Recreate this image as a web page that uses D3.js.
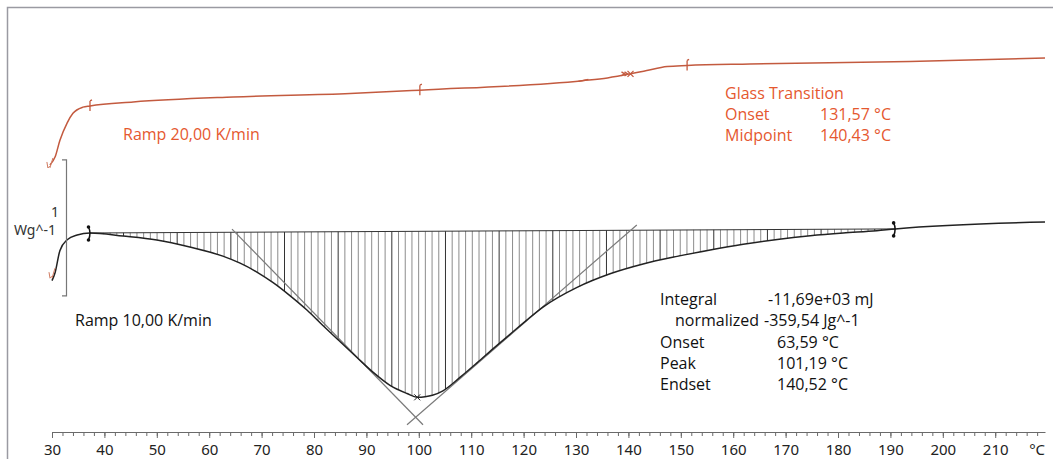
<!DOCTYPE html>
<html>
<head>
<meta charset="utf-8">
<script src="https://cdn.jsdelivr.net/npm/d3@7"></script>
<style>
body { margin: 0; background: #fff; }
svg { display: block; }
.tick text { font-family: "Noto Sans", sans-serif; font-size: 15px; fill: #222; }
</style>
</head>
<body>
<svg width="1053" height="459"></svg>
<script>
// upper run, 20 K/min (temperature in °C, heat flow in W/g)
var tRed = [29.6, 30.6, 31.5, 32.9, 34.0, 35.9, 37.25, 45.5, 64.6, 86.9, 100.2, 131.3, 136.0, 140.4, 143.5, 147.4, 151.2, 163.2, 193.7, 219.5];
var hfRed = [0.50, 0.56, 0.68, 0.81, 0.88, 0.925, 0.934, 0.963, 1.0, 1.025, 1.05, 1.12, 1.14, 1.17, 1.195, 1.224, 1.232, 1.243, 1.26, 1.287];

// lower run, 10 K/min
var tBlack = [30.0, 30.6, 31.5, 32.9, 34.8, 37.25, 43.55, 50.0, 56.3, 62.6, 65.9, 69.1, 72.2, 75.4, 78.7, 81.7, 85.0, 88.2, 91.3, 94.5, 97.75, 99.7, 101.2, 102.6, 104.6, 107.9, 111.1, 114.2, 117.4, 120.6, 123.7, 130.2, 136.5, 142.8, 149.3, 155.6, 161.9, 168.4, 174.7, 181.0, 187.4, 190.9, 219.5];
var hfBlack = [-0.35, -0.29, -0.13, -0.05, -0.015, 0.0, -0.022, -0.051, -0.103, -0.170, -0.222, -0.287, -0.365, -0.46, -0.568, -0.68, -0.80, -0.915, -1.025, -1.12, -1.18, -1.208, -1.204, -1.193, -1.16, -1.06, -0.955, -0.85, -0.745, -0.64, -0.545, -0.40, -0.30, -0.228, -0.172, -0.125, -0.083, -0.047, -0.02, 0.0, 0.016, 0.03, 0.081];

// integration limits and baseline of the peak
var baseT = [37.25, 190.9];
var baseHF = [0.0, 0.03];
// tangents (onset and endset construction)
var tanOnsetT = [64.35, 100.8], tanOnsetHF = [0.029, -1.41];
var tanEndT = [141.6, 97.75], tanEndHF = [0.059, -1.41];

// glass transition markers on the upper curve
var redMarkT = [37.25, 100.2, 131.6, 140.4, 151.2];

var xTicks = [30, 40, 50, 60, 70, 80, 90, 100, 110, 120, 130, 140, 150, 160, 170, 180, 190, 200, 210];
var minorTicks = d3.range(30, 220, 2);

var orange = "#e5582f", redLine = "#c35a3f";

var svg = d3.select("svg");

var x = d3.scaleLinear().domain([30, 219.5]).range([52, 1045]);
var y = d3.scaleLinear().domain([-1.463, 1.654]).range([432, 8]);

// frame
svg.append("path")
	.attr("d", "M7.5,470 V7.5 H1060")
	.attr("fill", "none")
	.attr("stroke", "#9a9aa2")
	.attr("stroke-width", 1.5);

// axis
var axG = svg.append("g").attr("transform", "translate(0,432)");
axG.call(d3.axisBottom(x).tickValues(minorTicks).tickSize(4).tickSizeOuter(0).tickFormat(""));
axG.append("g").call(d3.axisBottom(x).tickValues(xTicks).tickSize(6).tickPadding(6).tickSizeOuter(0).tickFormat(d3.format("d")))
	.select(".domain").remove();
axG.selectAll("path.domain, line").attr("stroke", "#6a6a6a");
axG.append("text")
	.attr("x", x(218)).attr("y", 12).attr("dy", "0.71em")
	.attr("text-anchor", "middle")
	.attr("font-family", "Noto Sans, sans-serif").attr("font-size", 15)
	.attr("fill", "#222")
	.text("°C");

// hatched area between baseline and peak
function baseAt(t) {
	return baseHF[0] + (t - baseT[0]) * (baseHF[1] - baseHF[0]) / (baseT[1] - baseT[0]);
}
var peakPts = tBlack.map(function(t, i) { return {t: t, v: hfBlack[i]}; })
	.filter(function(d) { return d.t >= baseT[0] && d.t <= baseT[1]; });

var area = d3.area()
	.x(function(d) { return x(d.t); })
	.y0(function(d) { return y(baseAt(d.t)); })
	.y1(function(d) { return y(d.v); })
	.curve(d3.curveMonotoneX);

svg.append("clipPath").attr("id", "peakClip")
	.append("path").attr("d", area(peakPts));

svg.append("g").attr("clip-path", "url(#peakClip)")
	.selectAll("line")
	.data(d3.range(baseT[0], baseT[1], 1.28))
	.enter().append("line")
	.attr("x1", function(d) { return x(d); })
	.attr("x2", function(d) { return x(d); })
	.attr("y1", y(0.2))
	.attr("y2", y(-1.4))
	.attr("stroke", function(d, i) { return i % 8 == 5 ? "#333" : "#8c8c8c"; })
	.attr("stroke-width", 1);

// baseline
svg.append("line")
	.attr("x1", x(baseT[0])).attr("y1", y(baseHF[0]))
	.attr("x2", x(baseT[1])).attr("y2", y(baseHF[1]))
	.attr("stroke", "#333").attr("stroke-width", 1);

// tangents
[[tanOnsetT, tanOnsetHF], [tanEndT, tanEndHF]].forEach(function(tg) {
	svg.append("line")
		.attr("x1", x(tg[0][0])).attr("y1", y(tg[1][0]))
		.attr("x2", x(tg[0][1])).attr("y2", y(tg[1][1]))
		.attr("stroke", "#7a7a7a").attr("stroke-width", 1.2);
});

var line = d3.line()
	.x(function(d) { return x(d[0]); })
	.y(function(d) { return y(d[1]); })
	.curve(d3.curveMonotoneX);

// curves
svg.append("path")
	.attr("d", line(d3.zip(tBlack, hfBlack)))
	.attr("fill", "none").attr("stroke", "#222").attr("stroke-width", 1.5);

svg.append("path")
	.attr("d", line(d3.zip(tRed, hfRed)))
	.attr("fill", "none").attr("stroke", redLine).attr("stroke-width", 1.5);

// integration limit markers
baseT.forEach(function(t, i) {
	var cy = y(baseHF[i]), cx = x(t);
	var g = svg.append("g");
	g.append("path")
		.attr("d", "M" + (cx - 1.5) + "," + (cy - 6) + " Q" + (cx + 1.5) + "," + cy + " " + (cx - 1.5) + "," + (cy + 7))
		.attr("fill", "none").attr("stroke", "#111").attr("stroke-width", 1.5);
	g.append("circle").attr("cx", cx - 1.5).attr("cy", cy - 6).attr("r", 1.8).attr("fill", "#111");
	g.append("circle").attr("cx", cx - 1.5).attr("cy", cy + 7).attr("r", 1.8).attr("fill", "#111");
});

// peak cross at the minimum of the curve
var iMin = d3.minIndex(hfBlack);
var peakX = x(tBlack[iMin]), peakY = y(hfBlack[iMin]);
svg.append("path")
	.attr("d", "M" + (peakX - 3) + "," + (peakY - 3) + " l6,6 M" + (peakX + 3) + "," + (peakY - 3) + " l-6,6")
	.attr("stroke", "#222").attr("stroke-width", 1);

// red curve markers
var redInterp = d3.scaleLinear().domain(tRed).range(hfRed);
redMarkT.forEach(function(t, i) {
	var cx = x(t), cy = y(redInterp(t));
	var d;
	if (i == 3) d = "M" + (cx - 3) + "," + (cy - 3) + " l6,6 M" + (cx + 3) + "," + (cy - 3) + " l-6,6 M" + (cx - 9) + "," + (cy - 2) + " l3,2 l-3,2 M" + (cx - 6) + "," + (cy - 2) + " l3,2 l-3,2";
	else if (i == 2) d = "M" + (cx - 6) + "," + (cy + 1) + " l10,-2";
	else d = "M" + cx + "," + (cy - 5) + " v10 M" + cx + "," + (cy - 5) + " l2,-1";
	svg.append("path").attr("d", d).attr("fill", "none")
		.attr("stroke", redLine).attr("stroke-width", 1.3);
});
// start marks of the two runs
[[tRed[0], hfRed[0]], [tBlack[0], hfBlack[0] + 0.04]].forEach(function(p) {
	var cx = x(p[0]) - 1, cy = y(p[1]);
	svg.append("path")
		.attr("d", "M" + (cx - 2) + "," + (cy - 3) + " l1,6 l2,-2 M" + (cx + 1) + "," + (cy + 3) + " l3,-10")
		.attr("fill", "none").attr("stroke", "#d07a60").attr("stroke-width", 1);
});

// scale bar (1 W/g)
var barLo = -0.463;
svg.append("path")
	.attr("d", "M62," + y(barLo + 1) + " H66.5 V" + y(barLo) + " H62")
	.attr("fill", "none").attr("stroke", "#777").attr("stroke-width", 1.2);
svg.append("text").attr("x", 55).attr("y", 217).attr("text-anchor", "middle")
	.attr("font-family", "Noto Sans, sans-serif").attr("font-size", 14).attr("fill", "#333").text("1");
svg.append("text").attr("x", 56).attr("y", 235).attr("text-anchor", "end")
	.attr("font-family", "Noto Sans, sans-serif").attr("font-size", 14).attr("fill", "#333").text("Wg^-1");

// labels
function label(txt, lx, ly, col) {
	svg.append("text").attr("x", lx).attr("y", ly)
		.attr("font-family", "Open Sans, sans-serif").attr("font-size", 16)
		.attr("fill", col).text(txt);
}
label("Ramp 20,00 K/min", 123, 140, orange);
label("Ramp 10,00 K/min", 75, 326, "#111");

label("Glass Transition", 725, 99, orange);
label("Onset", 725, 120, orange);
label("131,57 °C", 820, 120, orange);
label("Midpoint", 725, 141, orange);
label("140,43 °C", 820, 141, orange);

var resNames = ["Integral", "normalized", "Onset", "Peak", "Endset"];
var resValues = ["-11,69e+03 mJ", "-359,54 Jg^-1", "63,59 °C", "101,19 °C", "140,52 °C"];
var resNameX = [660, 675, 660, 660, 660];
var resValX = [768, 764, 777, 777, 777];
resNames.forEach(function(n, i) {
	label(n, resNameX[i], 305 + i * 21.3, "#111");
	label(resValues[i], resValX[i], 305 + i * 21.3, "#111");
});
</script>
</body>
</html>
